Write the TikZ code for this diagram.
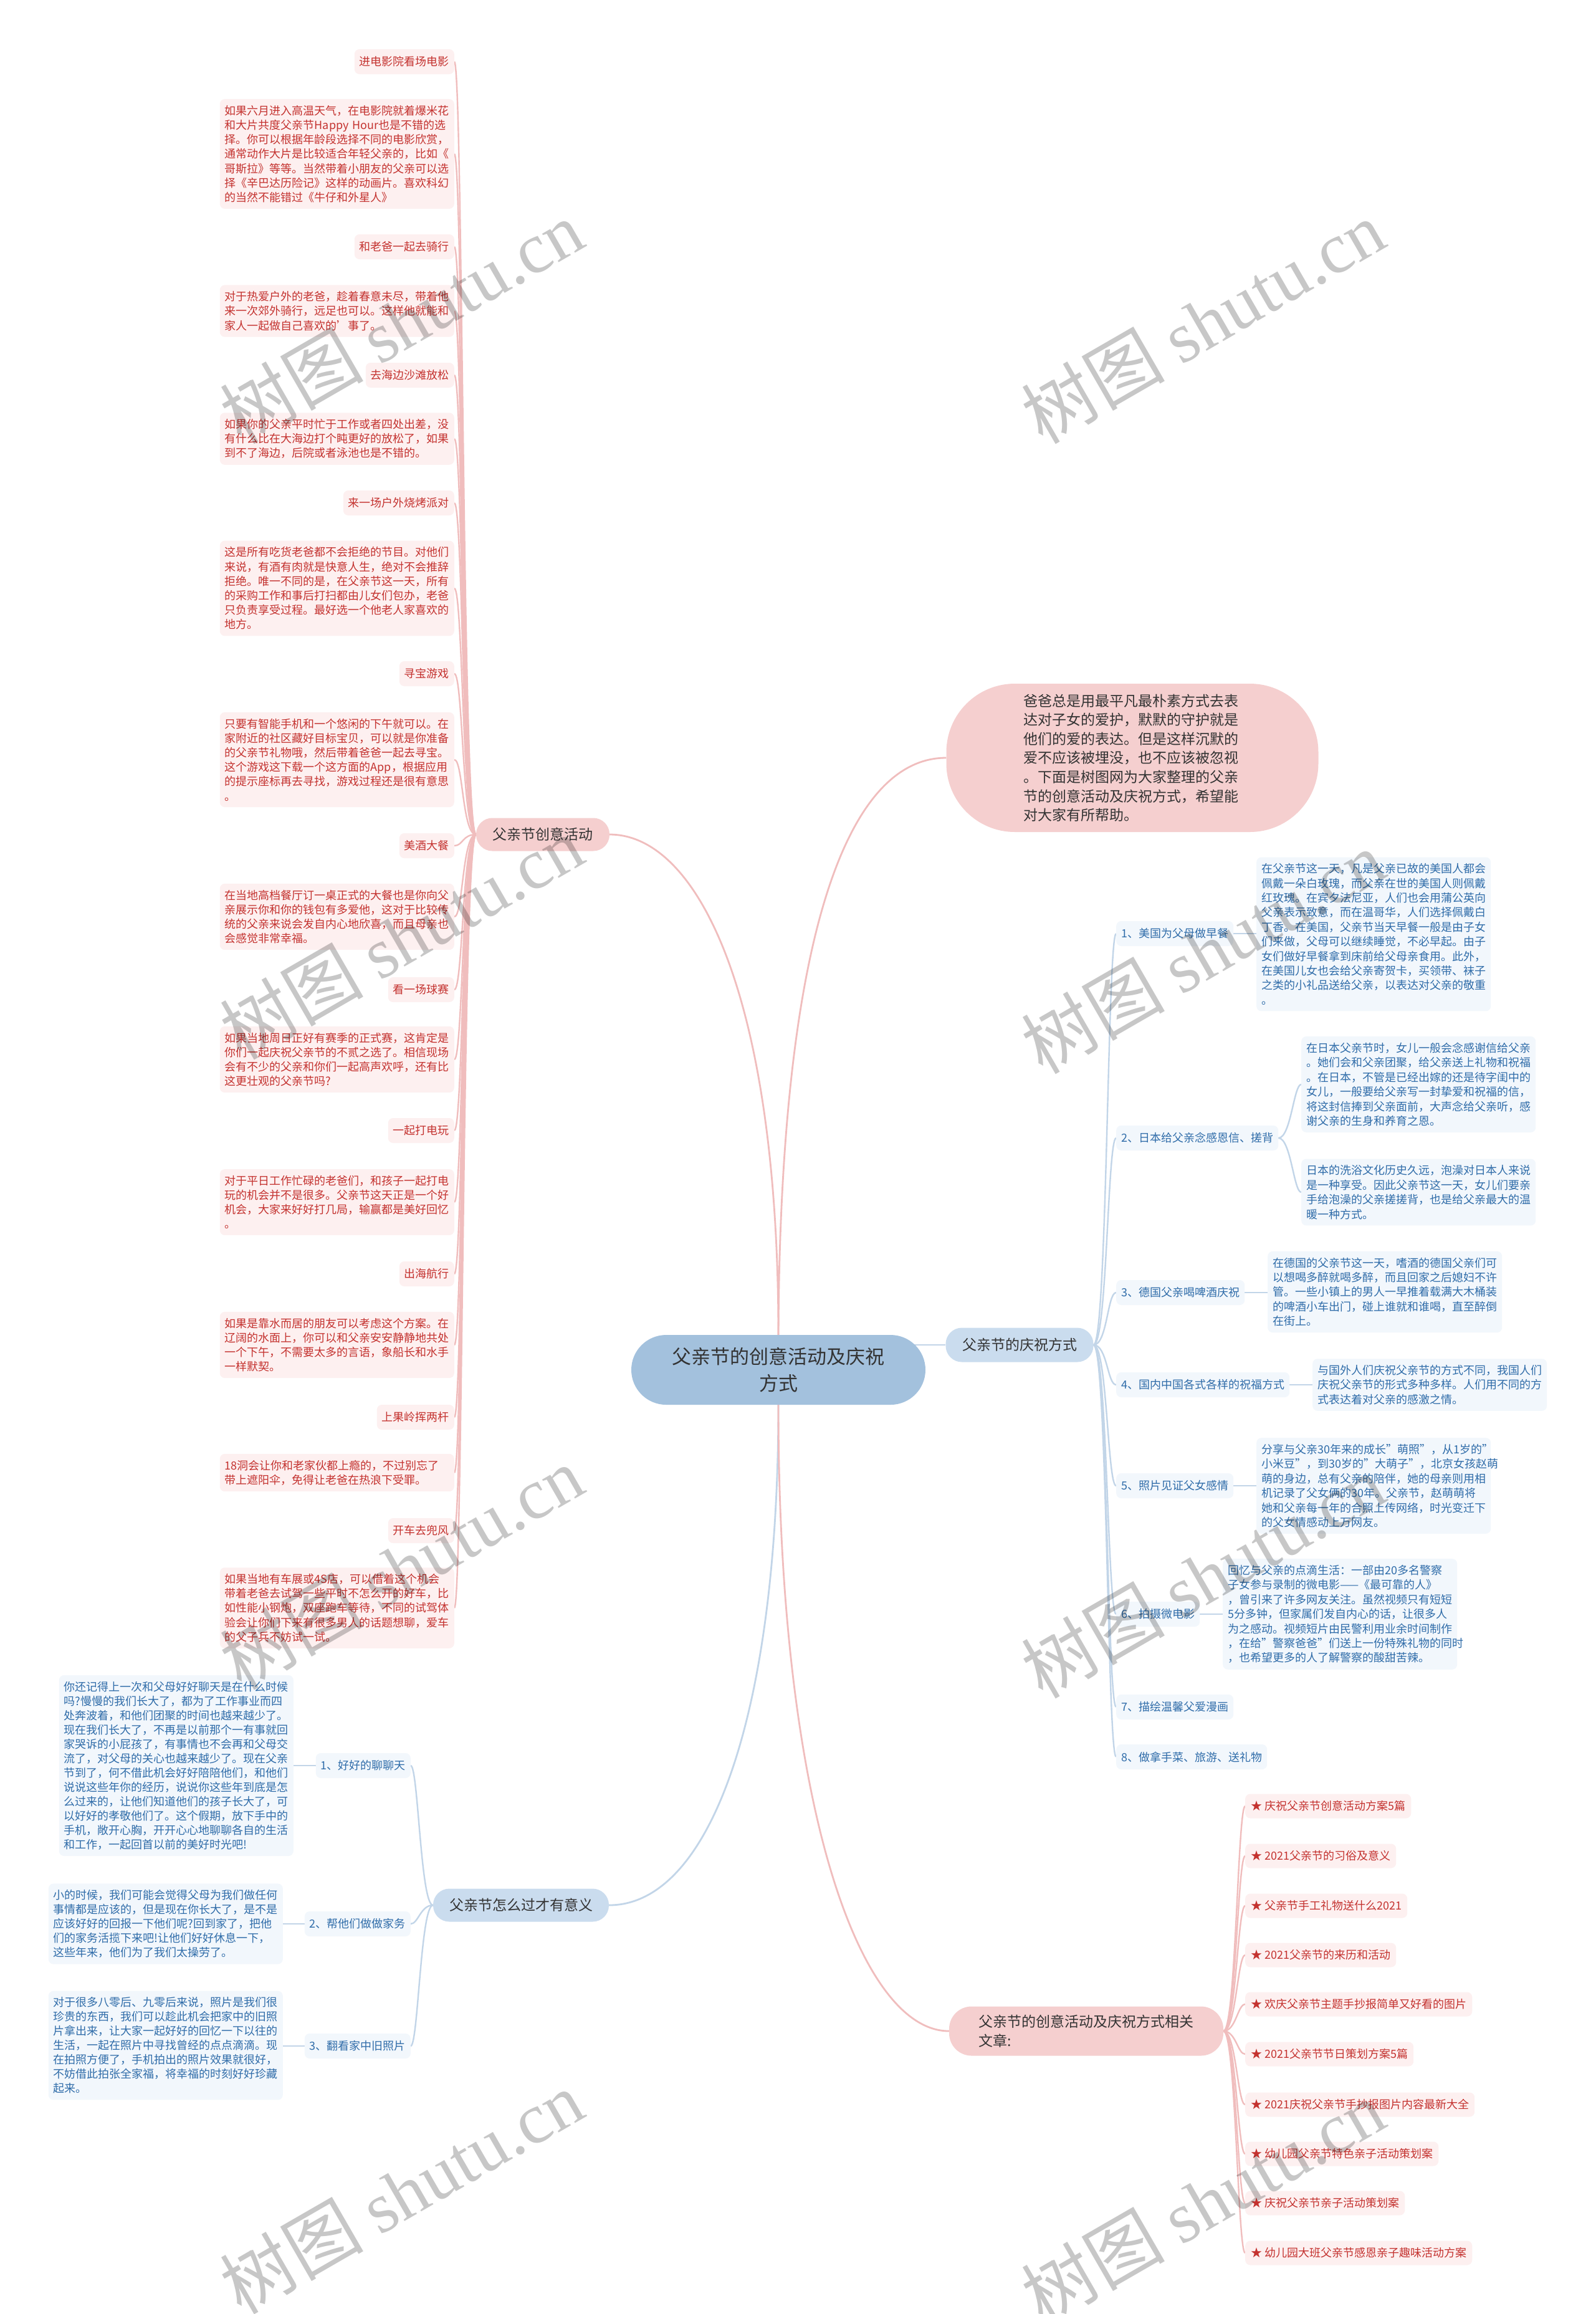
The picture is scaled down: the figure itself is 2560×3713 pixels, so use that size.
\documentclass[tikz,border=0pt]{standalone}
\usepackage{fontspec}
\setmainfont{Noto Sans CJK SC}
\newfontfamily\wmfont{Liberation Serif}
\usetikzlibrary{backgrounds}
\definecolor{pinkmain}{HTML}{F5CFCF}
\definecolor{pinkleaf}{HTML}{FDF0F0}
\definecolor{pinktext}{HTML}{C4322F}
\definecolor{pinkline}{HTML}{F0BDBD}
\definecolor{rootblue}{HTML}{A3C1DD}
\definecolor{bluemain}{HTML}{CADCEE}
\definecolor{blueleaf}{HTML}{F2F7FC}
\definecolor{bluetext}{HTML}{2F6CA9}
\definecolor{blueline}{HTML}{C2D5E8}
\definecolor{maintext}{HTML}{333333}
\tikzset{
  ptitle/.style={fill=pinkleaf, text=pinktext, rounded corners=8pt, inner xsep=8pt, inner ysep=0pt, minimum height=40pt, font=\fontsize{18}{23.2}\selectfont},
  pdesc/.style={fill=pinkleaf, text=pinktext, rounded corners=8pt, inner xsep=8pt, inner ysep=10pt, text width=360pt, align=left, font=\fontsize{18}{23.2}\selectfont},
  btitle/.style={fill=blueleaf, text=bluetext, rounded corners=8pt, inner xsep=8pt, inner ysep=0pt, minimum height=40pt, font=\fontsize{18}{23.2}\selectfont},
  bdesc/.style={fill=blueleaf, text=bluetext, rounded corners=8pt, inner xsep=8pt, inner ysep=10pt, text width=360pt, align=left, font=\fontsize{18}{23.4}\selectfont},
  mainpink/.style={fill=pinkmain, text=maintext, rounded corners=26pt, font=\fontsize{23}{31}\selectfont},
  mainblue/.style={fill=bluemain, text=maintext, rounded corners=26pt, font=\fontsize{23}{31}\selectfont},
  rootnode/.style={fill=rootblue, text=maintext, rounded corners=56pt, align=center, font=\fontsize{31}{43}\selectfont},
  relitem/.style={fill=pinkleaf, text=pinktext, rounded corners=8pt, inner xsep=9pt, inner ysep=0pt, minimum height=39pt, anchor=west, font=\fontsize{18}{23.2}\selectfont},
  pl/.style={draw=pinkline, line width=2.4pt},
  bl/.style={draw=blueline, line width=2.4pt},
  wm/.style={rotate=30, text=black, text opacity=0.22, font=\fontsize{115}{115}\selectfont},
}
\begin{document}
\begin{tikzpicture}[x=1pt,y=-1pt]
\useasboundingbox (0,0) rectangle (2560,3713);

% ---------- main nodes ----------
\node[rootnode, minimum width=472pt, minimum height=112pt] (root) at (1249,2198) {父亲节的创意活动及庆祝\\方式};
\node[mainpink, minimum width=214pt, minimum height=53pt] (cyhd) at (871,1339) {父亲节创意活动};
\node[fill=pinkmain, text=maintext, rounded corners=110pt, minimum width=597pt, minimum height=238pt, text width=350pt, align=left, font=\fontsize{23}{30.6}\selectfont] (intro) at (1817,1216) {爸爸总是用最平凡最朴素方式去表\\达对子女的爱护，默默的守护就是\\他们的爱的表达。但是这样沉默的\\爱不应该被埋没，也不应该被忽视\\。下面是树图网为大家整理的父亲\\节的创意活动及庆祝方式，希望能\\对大家有所帮助。};
\node[mainblue, minimum width=237pt, minimum height=55pt] (qzfs) at (1636,2158) {父亲节的庆祝方式};
\node[mainblue, minimum width=282pt, minimum height=53pt] (zmg) at (836,3057) {父亲节怎么过才有意义};
\node[mainpink, rounded corners=36pt, minimum width=440pt, minimum height=79pt, align=left] (xgwz) at (1743,3259) {父亲节的创意活动及庆祝方式相关\\文章:};

% ---------- left pink column ----------
\node[ptitle, anchor=east] (t1) at (729,99) {进电影院看场电影};
\node[pdesc, anchor=east] (d1) at (729,247) {如果六月进入高温天气，在电影院就着爆米花\\和大片共度父亲节Happy~Hour也是不错的选\\择。你可以根据年龄段选择不同的电影欣赏，\\通常动作大片是比较适合年轻父亲的，比如《\\哥斯拉》等等。当然带着小朋友的父亲可以选\\择《辛巴达历险记》这样的动画片。喜欢科幻\\的当然不能错过《牛仔和外星人》};
\node[ptitle, anchor=east] (t2) at (729,396) {和老爸一起去骑行};
\node[pdesc, anchor=east] (d2) at (729,499) {对于热爱户外的老爸，趁着春意未尽，带着他\\来一次郊外骑行，远足也可以。这样他就能和\\家人一起做自己喜欢的'事了。};
\node[ptitle, anchor=east] (t3) at (729,602) {去海边沙滩放松};
\node[pdesc, anchor=east] (d3) at (729,704) {如果你的父亲平时忙于工作或者四处出差，没\\有什么比在大海边打个盹更好的放松了，如果\\到不了海边，后院或者泳池也是不错的。};
\node[ptitle, anchor=east] (t4) at (729,807) {来一场户外烧烤派对};
\node[pdesc, anchor=east] (d4) at (729,944) {这是所有吃货老爸都不会拒绝的节目。对他们\\来说，有酒有肉就是快意人生，绝对不会推辞\\拒绝。唯一不同的是，在父亲节这一天，所有\\的采购工作和事后打扫都由儿女们包办，老爸\\只负责享受过程。最好选一个他老人家喜欢的\\地方。};
\node[ptitle, anchor=east] (t5) at (729,1081) {寻宝游戏};
\node[pdesc, anchor=east] (d5) at (729,1219) {只要有智能手机和一个悠闲的下午就可以。在\\家附近的社区藏好目标宝贝，可以就是你准备\\的父亲节礼物哦，然后带着爸爸一起去寻宝。\\这个游戏这下载一个这方面的App，根据应用\\的提示座标再去寻找，游戏过程还是很有意思\\。};
\node[ptitle, anchor=east] (t6) at (729,1357) {美酒大餐};
\node[pdesc, anchor=east] (d6) at (729,1471) {在当地高档餐厅订一桌正式的大餐也是你向父\\亲展示你和你的钱包有多爱他，这对于比较传\\统的父亲来说会发自内心地欣喜，而且母亲也\\会感觉非常幸福。};
\node[ptitle, anchor=east] (t7) at (729,1588) {看一场球赛};
\node[pdesc, anchor=east] (d7) at (729,1700) {如果当地周日正好有赛季的正式赛，这肯定是\\你们一起庆祝父亲节的不贰之选了。相信现场\\会有不少的父亲和你们一起高声欢呼，还有比\\这更壮观的父亲节吗?};
\node[ptitle, anchor=east] (t8) at (729,1814) {一起打电玩};
\node[pdesc, anchor=east] (d8) at (729,1929) {对于平日工作忙碌的老爸们，和孩子一起打电\\玩的机会并不是很多。父亲节这天正是一个好\\机会，大家来好好打几局，输赢都是美好回忆\\。};
\node[ptitle, anchor=east] (t9) at (729,2044) {出海航行};
\node[pdesc, anchor=east] (d9) at (729,2158) {如果是靠水而居的朋友可以考虑这个方案。在\\辽阔的水面上，你可以和父亲安安静静地共处\\一个下午，不需要太多的言语，象船长和水手\\一样默契。};
\node[ptitle, anchor=east] (t10) at (729,2274) {上果岭挥两杆};
\node[pdesc, anchor=east] (d10) at (729,2363) {18洞会让你和老家伙都上瘾的，不过别忘了\\带上遮阳伞，免得让老爸在热浪下受罪。};
\node[ptitle, anchor=east] (t11) at (729,2456) {开车去兜风};
\node[pdesc, anchor=east] (d11) at (729,2580) {如果当地有车展或4S店，可以借着这个机会\\带着老爸去试驾一些平时不怎么开的好车，比\\如性能小钢炮，双座跑车等待，不同的试驾体\\验会让你们下来有很多男人的话题想聊，爱车\\的父子兵不妨试一试。};

% ---------- right blue column ----------
\node[btitle, anchor=west] (b1) at (1791,1498) {1、美国为父母做早餐};
\node[bdesc, anchor=west] (e1) at (2016,1499) {在父亲节这一天，凡是父亲已故的美国人都会\\佩戴一朵白玫瑰，而父亲在世的美国人则佩戴\\红玫瑰。在宾夕法尼亚，人们也会用蒲公英向\\父亲表示致意，而在温哥华，人们选择佩戴白\\丁香。在美国，父亲节当天早餐一般是由子女\\们来做，父母可以继续睡觉，不必早起。由子\\女们做好早餐拿到床前给父母亲食用。此外，\\在美国儿女也会给父亲寄贺卡，买领带、袜子\\之类的小礼品送给父亲，以表达对父亲的敬重\\。};
\node[btitle, anchor=west] (b2) at (1791,1826) {2、日本给父亲念感恩信、搓背};
\node[bdesc, anchor=west] (e2a) at (2088,1740) {在日本父亲节时，女儿一般会念感谢信给父亲\\。她们会和父亲团聚，给父亲送上礼物和祝福\\。在日本，不管是已经出嫁的还是待字闺中的\\女儿，一般要给父亲写一封挚爱和祝福的信，\\将这封信捧到父亲面前，大声念给父亲听，感\\谢父亲的生身和养育之恩。};
\node[bdesc, anchor=west] (e2b) at (2088,1913) {日本的洗浴文化历史久远，泡澡对日本人来说\\是一种享受。因此父亲节这一天，女儿们要亲\\手给泡澡的父亲搓搓背，也是给父亲最大的温\\暖一种方式。};
\node[btitle, anchor=west] (b3) at (1791,2074) {3、德国父亲喝啤酒庆祝};
\node[bdesc, anchor=west] (e3) at (2034,2073) {在德国的父亲节这一天，嗜酒的德国父亲们可\\以想喝多醉就喝多醉，而且回家之后媳妇不许\\管。一些小镇上的男人一早推着载满大木桶装\\的啤酒小车出门，碰上谁就和谁喝，直至醉倒\\在街上。};
\node[btitle, anchor=west] (b4) at (1791,2222) {4、国内中国各式各样的祝福方式};
\node[bdesc, anchor=west] (e4) at (2106,2222) {与国外人们庆祝父亲节的方式不同，我国人们\\庆祝父亲节的形式多种多样。人们用不同的方\\式表达着对父亲的感激之情。};
\node[btitle, anchor=west] (b5) at (1791,2384) {5、照片见证父女感情};
\node[bdesc, anchor=west] (e5) at (2016,2384) {分享与父亲30年来的成长"萌照"，从1岁的"\\小米豆"，到30岁的"大萌子"，北京女孩赵萌\\萌的身边，总有父亲的陪伴，她的母亲则用相\\机记录了父女俩的30年。父亲节，赵萌萌将\\她和父亲每一年的合照上传网络，时光变迁下\\的父女情感动上万网友。};
\node[btitle, anchor=west] (b6) at (1791,2590) {6、拍摄微电影};
\node[bdesc, anchor=west] (e6) at (1962,2590) {回忆与父亲的点滴生活：一部由20多名警察\\子女参与录制的微电影——《最可靠的人》\\，曾引来了许多网友关注。虽然视频只有短短\\5分多钟，但家属们发自内心的话，让很多人\\为之感动。视频短片由民警利用业余时间制作\\，在给"警察爸爸"们送上一份特殊礼物的同时\\，也希望更多的人了解警察的酸甜苦辣。};
\node[btitle, anchor=west] (b7) at (1791,2739) {7、描绘温馨父爱漫画};
\node[btitle, anchor=west] (b8) at (1791,2819) {8、做拿手菜、旅游、送礼物};

% ---------- bottom-left blue column ----------
\node[btitle, anchor=east] (l1) at (659,2833) {1、好好的聊聊天};
\node[bdesc, anchor=east, font=\fontsize{18}{23}\selectfont] (f1) at (471,2833) {你还记得上一次和父母好好聊天是在什么时候\\吗?慢慢的我们长大了，都为了工作事业而四\\处奔波着，和他们团聚的时间也越来越少了。\\现在我们长大了，不再是以前那个一有事就回\\家哭诉的小屁孩了，有事情也不会再和父母交\\流了，对父母的关心也越来越少了。现在父亲\\节到了，何不借此机会好好陪陪他们，和他们\\说说这些年你的经历，说说你这些年到底是怎\\么过来的，让他们知道他们的孩子长大了，可\\以好好的孝敬他们了。这个假期，放下手中的\\手机，敞开心胸，开开心心地聊聊各自的生活\\和工作，一起回首以前的美好时光吧!};
\node[btitle, anchor=east] (l2) at (659,3087) {2、帮他们做做家务};
\node[bdesc, anchor=east, font=\fontsize{18}{23}\selectfont] (f2) at (454,3087) {小的时候，我们可能会觉得父母为我们做任何\\事情都是应该的，但是现在你长大了，是不是\\应该好好的回报一下他们呢?回到家了，把他\\们的家务活揽下来吧!让他们好好休息一下，\\这些年来，他们为了我们太操劳了。};
\node[btitle, anchor=east] (l3) at (659,3283) {3、翻看家中旧照片};
\node[bdesc, anchor=east, font=\fontsize{18}{23}\selectfont] (f3) at (454,3282) {对于很多八零后、九零后来说，照片是我们很\\珍贵的东西，我们可以趁此机会把家中的旧照\\片拿出来，让大家一起好好的回忆一下以往的\\生活，一起在照片中寻找曾经的点点滴滴。现\\在拍照方便了，手机拍出的照片效果就很好，\\不妨借此拍张全家福，将幸福的时刻好好珍藏\\起来。};

% ---------- related articles ----------
\node[relitem] (r1) at (1998,2898) {★ 庆祝父亲节创意活动方案5篇};
\node[relitem] (r2) at (1998,2978) {★ 2021父亲节的习俗及意义};
\node[relitem] (r3) at (1998,3058) {★ 父亲节手工礼物送什么2021};
\node[relitem] (r4) at (1998,3137) {★ 2021父亲节的来历和活动};
\node[relitem] (r5) at (1998,3216) {★ 欢庆父亲节主题手抄报简单又好看的图片};
\node[relitem] (r6) at (1998,3296) {★ 2021父亲节节日策划方案5篇};
\node[relitem] (r7) at (1998,3377) {★ 2021庆祝父亲节手抄报图片内容最新大全};
\node[relitem] (r8) at (1998,3456) {★ 幼儿园父亲节特色亲子活动策划案};
\node[relitem] (r9) at (1998,3535) {★ 庆祝父亲节亲子活动策划案};
\node[relitem] (r10) at (1998,3615) {★ 幼儿园大班父亲节感恩亲子趣味活动方案};

% ---------- connectors ----------
\begin{scope}[on background layer]
\fill[white] (0,0) rectangle (2560,3713);
\draw[pl, line width=2.8pt] (cyhd.east) .. controls (1120,1339) and (1249,1600) .. (root.north);
\draw[pl, line width=2.8pt] (root.north) .. controls (1252,1500) and (1360,1216) .. (intro.west);
\draw[bl, line width=2.8pt] (root.center |- qzfs.west) -- (qzfs.west);
\draw[bl, line width=2.8pt] (root.south) .. controls (1249,2750) and (1140,3057) .. (zmg.east);
\draw[pl, line width=2.8pt] (root.south) .. controls (1249,2900) and (1380,3259) .. (xgwz.west);
\foreach \n in {t1,d1,t2,d2,t3,d3,t4,d4,t5,d5,t6,d6,t7,d7,t8,d8,t9,d9,t10,d10,t11,d11}
  \draw[pl] (cyhd.west) .. controls +(-22,0) and +(14,0) .. (\n.east);
\foreach \n in {b1,b2,b3,b4,b5,b6,b7,b8}
  \draw[bl] (qzfs.east) .. controls +(22,0) and +(-14,0) .. (\n.west);
\draw[bl] (b1.east) -- (b1.east -| e1.west);
\draw[bl] (b2.east) .. controls +(20,0) and +(-12,0) .. (e2a.west);
\draw[bl] (b2.east) .. controls +(20,0) and +(-12,0) .. (e2b.west);
\draw[bl] (b3.east) -- (b3.east -| e3.west);
\draw[bl] (b4.east) -- (b4.east -| e4.west);
\draw[bl] (b5.east) -- (b5.east -| e5.west);
\draw[bl] (b6.east) -- (b6.east -| e6.west);
\foreach \n in {l1,l2,l3}
  \draw[bl] (zmg.west) .. controls +(-20,0) and +(12,0) .. (\n.east);
\draw[bl] (l1.west) -- (l1.west -| f1.east);
\draw[bl] (l2.west) -- (l2.west -| f2.east);
\draw[bl] (l3.west) -- (l3.west -| f3.east);
\foreach \n in {r1,r2,r3,r4,r5,r6,r7,r8,r9,r10}
  \draw[pl] (xgwz.east) .. controls +(20,0) and +(-12,0) .. (\n.west);
\end{scope}

% ---------- watermarks ----------
\node[wm] (w1) at (644,516) {树图 {\wmfont shutu.cn}};
\node[wm] (w2) at (1930,516) {树图 {\wmfont shutu.cn}};
\node[wm] (w3) at (644,1504) {树图 {\wmfont shutu.cn}};
\node[wm] (w4) at (1930,1527) {树图 {\wmfont shutu.cn}};
\node[wm] (w5) at (644,2515) {树图 {\wmfont shutu.cn}};
\node[wm] (w6) at (1930,2529) {树图 {\wmfont shutu.cn}};
\node[wm] (w7) at (644,3517) {树图 {\wmfont shutu.cn}};
\node[wm] (w8) at (1930,3533) {树图 {\wmfont shutu.cn}};
\end{tikzpicture}
\end{document}
